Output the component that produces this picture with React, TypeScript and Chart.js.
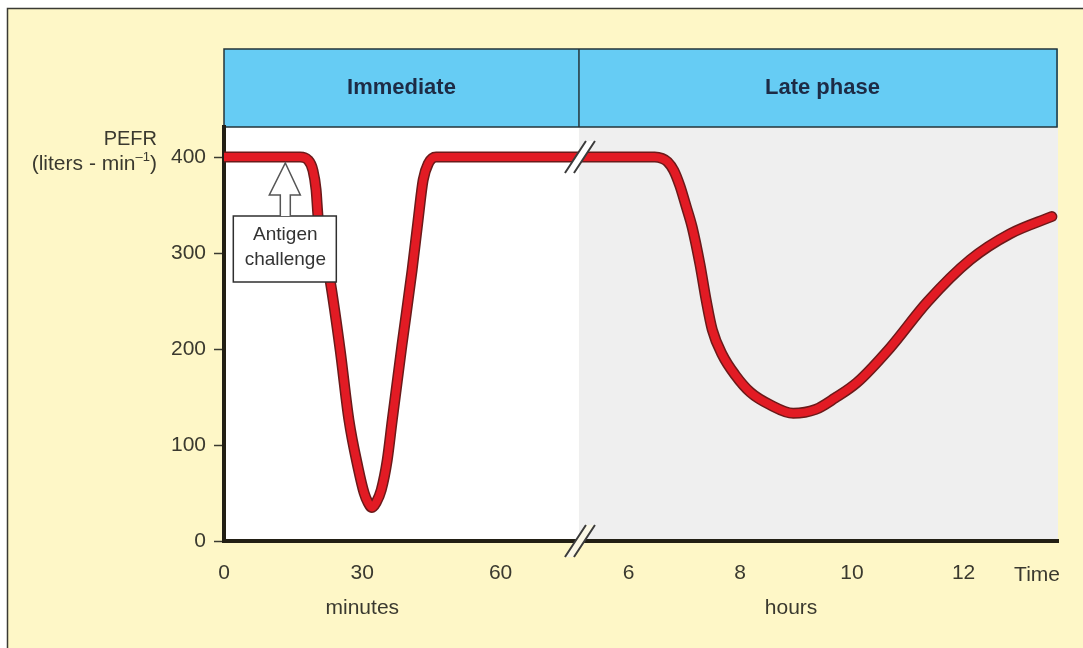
import React, { useEffect, useRef } from "react";
import { Chart, registerables } from "chart.js";
Chart.register(...registerables);

// ---------- data ----------
const PHASES = ["Immediate", "Late phase"];
const Y_TICKS = [0, 100, 200, 300, 400];
const MINUTE_TICKS = [0, 30, 60];
const HOUR_TICKS = [6, 8, 10, 12];

// Immediate phase (time in minutes, PEFR in L/min)
const MINUTES = [0, 16.5, 18.2, 19.3, 19.97, 20.4, 23.0, 25.2, 27.1, 29.1, 30.4, 31.25, 32.1, 33.0, 34.1, 35.4, 36.5, 38.6, 40.8, 42.1, 43.2, 44.3, 46.0, 77];
const PEFR_MINUTES = [400, 400, 397, 386, 366, 338, 272, 199, 126, 76, 50, 40, 35, 40, 53, 84, 126, 204, 282, 334, 376, 393, 400, 400];

// Late phase (time in hours, PEFR in L/min)
const HOURS = [5.113, 6.385, 6.47, 6.6, 6.7, 6.81, 6.92, 7.03, 7.14, 7.28, 7.39, 7.5, 7.68, 7.91, 8.18, 8.53, 8.95, 9.35, 9.7, 10.09, 10.68, 11.35, 12.12, 12.83, 13.58];
const PEFR_HOURS = [400, 400, 400, 398.5, 395, 386, 370, 349, 327, 288, 251, 220, 194, 173, 155, 142, 133, 137, 149, 165, 201, 249, 293, 320, 338];

const ANTIGEN_MINUTE = 13.3;
const ANTIGEN_LABEL = ["Antigen", "challenge"];

// ---------- broken time axis ----------
const MINUTE_END = 77; // axis break (minutes side)
const HOUR_START = 5.113; // axis break (hours side)
const HOUR_END = 13.69;
const HOUR_TO_MIN_SCALE = 55.83 / 4.608; // drawn width of one hour vs one minute
const uMin = (m: number) => m;
const uHour = (h: number) => MINUTE_END + (h - HOUR_START) * HOUR_TO_MIN_SCALE;
const U_MAX = uHour(HOUR_END);
const Y_MAX = 431.25;

const X_TICK_VALUES = [...MINUTE_TICKS.map(uMin), ...HOUR_TICKS.map(uHour)];
const X_TICK_LABELS = [...MINUTE_TICKS.map(String), ...HOUR_TICKS.map(String)];

const FONT = "'Liberation Sans', Arial, sans-serif";
const TEXT = "#3a392f";
const CREAM = "#FEF7C7";

const points = [
  ...MINUTES.map((m, i) => ({ x: uMin(m), y: PEFR_MINUTES[i] })),
  ...HOURS.map((h, i) => ({ x: uHour(h), y: PEFR_HOURS[i] })),
];

function drawBreak(ctx: CanvasRenderingContext2D, cx: number, cy: number, fill: string) {
  const a = [cx - 15, cy + 16];
  const b = [cx + 6, cy - 16];
  const c = [cx + 15, cy - 16];
  const d = [cx - 6, cy + 16];
  ctx.save();
  ctx.fillStyle = fill;
  ctx.beginPath();
  ctx.moveTo(a[0], a[1]);
  ctx.lineTo(b[0], b[1]);
  ctx.lineTo(c[0], c[1]);
  ctx.lineTo(d[0], d[1]);
  ctx.closePath();
  ctx.fill();
  ctx.strokeStyle = "#3b3b3b";
  ctx.lineWidth = 2;
  ctx.beginPath();
  ctx.moveTo(a[0], a[1]);
  ctx.lineTo(b[0], b[1]);
  ctx.moveTo(d[0], d[1]);
  ctx.lineTo(c[0], c[1]);
  ctx.stroke();
  ctx.restore();
}

const decorPlugin = {
  id: "decor",
  beforeDraw(chart: any) {
    const { ctx, chartArea: ca, scales } = chart;
    const xb = scales.x.getPixelForValue(MINUTE_END);
    ctx.save();
    ctx.fillStyle = "#ffffff";
    ctx.fillRect(0, 0, chart.width, chart.height);
    ctx.fillStyle = CREAM;
    ctx.fillRect(7, 8, chart.width - 7, chart.height - 8);
    ctx.strokeStyle = "#3a3a33";
    ctx.lineWidth = 1.5;
    ctx.beginPath();
    ctx.moveTo(7.5, chart.height);
    ctx.lineTo(7.5, 8.5);
    ctx.lineTo(chart.width, 8.5);
    ctx.stroke();
    // plot backgrounds
    ctx.fillStyle = "#ffffff";
    ctx.fillRect(ca.left, ca.top, xb - ca.left, ca.bottom - ca.top);
    ctx.fillStyle = "#EFEFEF";
    ctx.fillRect(xb, ca.top, ca.right - xb, ca.bottom - ca.top);
    // header band
    const top = 49;
    ctx.fillStyle = "#66CCF4";
    ctx.fillRect(ca.left, top, ca.right - ca.left, ca.top - top);
    ctx.strokeStyle = "#24343a";
    ctx.lineWidth = 1.5;
    ctx.strokeRect(ca.left, top, ca.right - ca.left - 1, ca.top - top);
    ctx.beginPath();
    ctx.moveTo(xb, top);
    ctx.lineTo(xb, ca.top);
    ctx.stroke();
    ctx.fillStyle = "#1d2b45";
    ctx.font = `bold 22px ${FONT}`;
    ctx.textAlign = "center";
    ctx.textBaseline = "middle";
    ctx.fillText(PHASES[0], (ca.left + xb) / 2, 88);
    ctx.fillText(PHASES[1], (xb + ca.right) / 2 + 4, 88);
    ctx.restore();
  },
  afterDraw(chart: any) {
    const { ctx, chartArea: ca, scales } = chart;
    const xs = scales.x;
    const ys = scales.y;
    const xb = xs.getPixelForValue(MINUTE_END);
    drawBreak(ctx, xb + 1, ys.getPixelForValue(400), "#ffffff");
    drawBreak(ctx, xb + 1, ca.bottom, "#fbf8e6");

    // Antigen challenge arrow + box
    const tx = xs.getPixelForValue(uMin(ANTIGEN_MINUTE));
    const ty = ys.getPixelForValue(400) + 6;
    ctx.save();
    ctx.fillStyle = "#ffffff";
    ctx.strokeStyle = "#2f2f2f";
    ctx.lineWidth = 1.5;
    ctx.fillRect(tx - 52, ty + 53, 103, 66);
    ctx.strokeRect(tx - 52, ty + 53, 103, 66);
    ctx.strokeStyle = "#555555";
    ctx.beginPath();
    ctx.moveTo(tx - 5, ty + 53);
    ctx.lineTo(tx - 5, ty + 32);
    ctx.lineTo(tx - 16, ty + 32);
    ctx.lineTo(tx, ty);
    ctx.lineTo(tx + 15, ty + 32);
    ctx.lineTo(tx + 5, ty + 32);
    ctx.lineTo(tx + 5, ty + 53);
    ctx.fill();
    ctx.stroke();
    ctx.fillStyle = "#333333";
    ctx.font = `19px ${FONT}`;
    ctx.textAlign = "center";
    ctx.textBaseline = "alphabetic";
    ctx.fillText(ANTIGEN_LABEL[0], tx, ty + 77);
    ctx.fillText(ANTIGEN_LABEL[1], tx, ty + 102);

    // axis titles
    ctx.fillStyle = TEXT;
    ctx.font = `20px ${FONT}`;
    ctx.textAlign = "right";
    ctx.fillText("PEFR", 157, 145);
    const right = 157;
    ctx.font = `21px ${FONT}`;
    const wClose = ctx.measureText(")").width;
    ctx.font = `13px ${FONT}`;
    const wSup = ctx.measureText("–1").width;
    ctx.textAlign = "left";
    ctx.fillText("–1", right - wClose - wSup, 161);
    ctx.font = `21px ${FONT}`;
    ctx.fillText(")", right - wClose, 170);
    ctx.textAlign = "right";
    ctx.fillText("(liters - min", right - wClose - wSup, 170);

    ctx.textAlign = "center";
    ctx.textBaseline = "middle";
    ctx.font = `21px ${FONT}`;
    ctx.fillText("minutes", xs.getPixelForValue(uMin(30)), 608);
    ctx.fillText("hours", (xs.getPixelForValue(uHour(8)) + xs.getPixelForValue(uHour(10))) / 2 - 5, 608);
    ctx.textAlign = "right";
    ctx.fillText("Time", 1060, 575);
    ctx.restore();
  },
};

export default function App() {
  const ref = useRef<HTMLCanvasElement>(null);
  useEffect(() => {
    document.body.style.margin = "0";
    const canvas = ref.current!;
    const common = {
      data: points,
      pointRadius: 0,
      fill: false,
      cubicInterpolationMode: "monotone" as const,
      borderJoinStyle: "round" as const,
      borderCapStyle: "round" as const,
    };
    const chart = new Chart(canvas, {
      type: "line",
      data: {
        datasets: [
          { ...common, label: "PEFR", borderColor: "#E21B24", borderWidth: 8, order: 0 },
          { ...common, label: "outline", borderColor: "#6b1a1a", borderWidth: 11, order: 1 },
        ],
      },
      options: {
        animation: false,
        responsive: false,
        devicePixelRatio: 1,
        layout: { padding: { left: 0, top: 127, right: 25, bottom: 0 } },
        plugins: { legend: { display: false }, tooltip: { enabled: false } },
        scales: {
          x: {
            type: "linear",
            min: 0,
            max: U_MAX,
            afterFit: (s: any) => {
              s.height = 107;
            },
            afterBuildTicks: (s: any) => {
              s.ticks = X_TICK_VALUES.map((v) => ({ value: v }));
            },
            grid: { display: false, drawTicks: false },
            border: { display: true, color: "#221f14", width: 4 },
            ticks: {
              autoSkip: false,
              maxRotation: 0,
              padding: 20,
              color: TEXT,
              font: { family: FONT, size: 21 },
              callback: (_v: any, i: number) => X_TICK_LABELS[i],
            },
          },
          y: {
            type: "linear",
            min: 0,
            max: Y_MAX,
            afterFit: (s: any) => {
              s.width = 224;
            },
            afterBuildTicks: (s: any) => {
              s.ticks = Y_TICKS.map((v) => ({ value: v }));
            },
            grid: {
              display: true,
              drawOnChartArea: false,
              drawTicks: true,
              tickLength: 10,
              tickWidth: 1.5,
              tickColor: "#3a3a30",
            },
            border: { display: true, color: "#221f14", width: 4 },
            ticks: {
              padding: 8,
              color: TEXT,
              font: { family: FONT, size: 21 },
              callback: (v: any) => String(v),
            },
          },
        },
      },
      plugins: [decorPlugin],
    });
    return () => chart.destroy();
  }, []);
  return (
    <div style={{ position: "fixed", left: 0, top: 0, width: 1083, height: 648 }}>
      <canvas ref={ref} width={1083} height={648} style={{ display: "block", width: 1083, height: 648 }} />
    </div>
  );
}
